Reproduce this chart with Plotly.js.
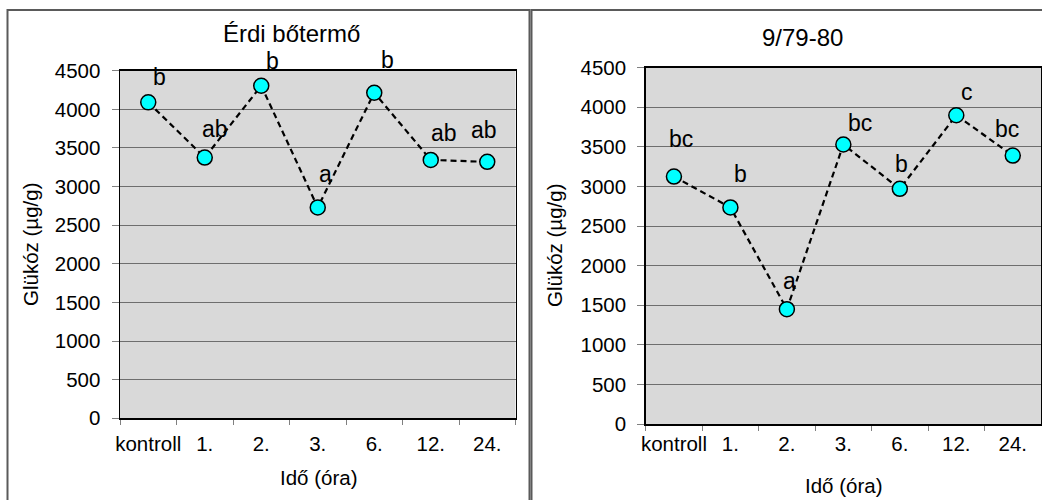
<!DOCTYPE html>
<html>
<head>
<meta charset="utf-8">
<script src="https://cdn.plot.ly/plotly-3.0.1.min.js"></script>
<style>
  html, body { margin: 0; padding: 0; background: #ffffff; }
  #chart { width: 1042px; height: 500px; }
</style>
</head>
<body>
<div id="chart"></div>
<script>
// ---- data ----
const categories = ['kontroll', '1.', '2.', '3.', '6.', '12.', '24.'];
const erdiValues = [4090, 3375, 4305, 2730, 4215, 3345, 3320];
const erdiLetters = ['b', 'ab', 'b', 'a', 'b', 'ab', 'ab'];
const v979Values = [3125, 2735, 1450, 3530, 2970, 3900, 3390];
const v979Letters = ['bc', 'b', 'a', 'bc', 'b', 'c', 'bc'];
const yTickValues = [0, 500, 1000, 1500, 2000, 2500, 3000, 3500, 4000, 4500];
const leftTitle = 'Érdi bőtermő';
const rightTitle = '9/79-80';
const xTitle = 'Idő (óra)';
const yTitle = 'Glükóz (µg/g)';

// ---- label placement (pixel offsets from each point) ----
const erdiLabelDx = [11, 10, 11, 8, 13, 13, -3];
const erdiLabelDy = [25, 29, 25, 33, 33, 27, 32];
const v979LabelDx = [7, 10, 3, 17, 2, 11, -6];
const v979LabelDy = [38, 33, 28, 22, 25, 23, 27];

const W = 1042, H = 500;
const FONT = 'Liberation Sans, Arial, sans-serif';

function seriesTrace(values, xa, ya) {
  return {
    type: 'scatter',
    mode: 'lines+markers',
    x: categories,
    y: values,
    xaxis: xa,
    yaxis: ya,
    line: { color: '#000000', width: 2.2, dash: '6px,4px' },
    marker: { color: '#00ffff', size: 15, line: { color: '#000000', width: 1.5 } },
    hoverinfo: 'skip',
    showlegend: false
  };
}

const data = [
  seriesTrace(erdiValues, 'x', 'y'),
  seriesTrace(v979Values, 'x2', 'y2')
];

function xAxis(domain, anchor, standoff) {
  return {
    domain: domain,
    anchor: anchor,
    type: 'category',
    categoryorder: 'array',
    categoryarray: categories,
    range: [-0.5, categories.length - 0.5],
    tickson: 'boundaries',
    ticks: 'outside',
    ticklen: 5,
    tickwidth: 1,
    tickcolor: '#808080',
    tickangle: 0,
    ticklabelstandoff: standoff,
    tickfont: { family: FONT, size: 20.5, color: '#000000' },
    showline: true,
    linecolor: '#000000',
    linewidth: 1.5,
    mirror: true,
    showgrid: false,
    zeroline: false,
    fixedrange: true
  };
}

function yAxis(domain, anchor, standoff) {
  return {
    domain: domain,
    anchor: anchor,
    range: [0, 4500],
    tickmode: 'array',
    tickvals: yTickValues,
    ticktext: yTickValues.map(String),
    ticks: 'outside',
    ticklen: 7,
    tickwidth: 1,
    tickcolor: '#808080',
    ticklabelstandoff: standoff,
    tickfont: { family: FONT, size: 20.5, color: '#000000' },
    showline: true,
    linecolor: '#000000',
    linewidth: 1.5,
    mirror: true,
    showgrid: true,
    gridcolor: '#6e6e6e',
    gridwidth: 1,
    zeroline: false,
    fixedrange: true
  };
}

const annotations = [];
function addLetters(values, letters, dx, dy, xref, yref) {
  for (let i = 0; i < categories.length; i++) {
    annotations.push({
      x: i, y: values[i], xref: xref, yref: yref,
      text: letters[i], showarrow: false,
      xshift: dx[i], yshift: dy[i],
      xanchor: 'center', yanchor: 'middle',
      font: { family: FONT, size: 23, color: '#000000' }
    });
  }
}
addLetters(erdiValues, erdiLetters, erdiLabelDx, erdiLabelDy, 'x', 'y');
addLetters(v979Values, v979Letters, v979LabelDx, v979LabelDy, 'x2', 'y2');

function paperText(text, px, py, size, angle) {
  annotations.push({
    x: px / W, y: 1 - py / H, xref: 'paper', yref: 'paper',
    text: text, showarrow: false, textangle: angle || 0,
    xanchor: 'center', yanchor: 'middle',
    font: { family: FONT, size: size, color: '#000000' }
  });
}
paperText(leftTitle, 291, 33, 24);
paperText(rightTitle, 802, 38, 24);
paperText(xTitle, 318, 477, 20.5);
paperText(xTitle, 843, 485, 20.5);
paperText(yTitle, 30, 245, 20.5, -90);
paperText(yTitle, 554, 246, 20.5, -90);

const shapes = [
  { type: 'rect', xref: 'paper', yref: 'paper',
    x0: 7.5 / W, x1: 529.5 / W, y0: -0.1, y1: 1 - 10 / H,
    line: { color: '#5a5a5a', width: 2 }, fillcolor: 'rgba(0,0,0,0)', layer: 'below' },
  { type: 'rect', xref: 'paper', yref: 'paper',
    x0: 531.5 / W, x1: 1.1, y0: -0.1, y1: 1 - 10 / H,
    line: { color: '#5a5a5a', width: 2 }, fillcolor: 'rgba(0,0,0,0)', layer: 'below' }
];

const layout = {
  width: W, height: H,
  margin: { l: 0, r: 0, t: 0, b: 0, pad: 0 },
  paper_bgcolor: '#ffffff',
  plot_bgcolor: '#d9d9d9',
  showlegend: false,
  font: { family: FONT, color: '#000000' },
  xaxis: xAxis([120 / W, 515.5 / W], 'y', 7),
  yaxis: yAxis([1 - 418.3 / H, 1 - 70.7 / H], 'x', 7),
  xaxis2: xAxis([645.7 / W, 1041 / W], 'y2', 1),
  yaxis2: yAxis([1 - 424 / H, 1 - 67.7 / H], 'x2', 7),
  annotations: annotations,
  shapes: shapes
};

Plotly.newPlot('chart', data, layout, { displayModeBar: false, staticPlot: true });
</script>
</body>
</html>
